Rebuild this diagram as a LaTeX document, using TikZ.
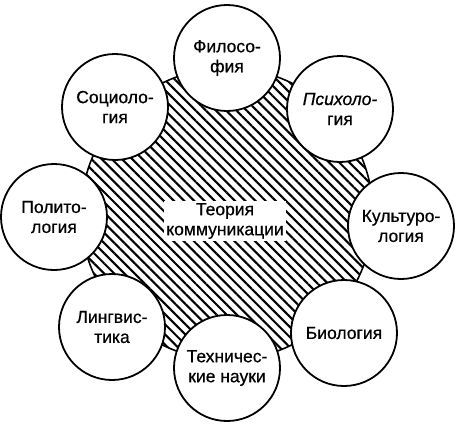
\documentclass[tikz,border=0pt]{standalone}
\usepackage{fontspec}
\setmainfont{Liberation Sans}[FakeBold=0.6]
\usetikzlibrary{patterns.meta}
\begin{document}
\begin{tikzpicture} [x = 1pt, y = -1pt,
	label font/.style = {font = \fontsize{17.5}{20}\selectfont},
	field/.style = {circle, draw, line width = 1.8pt, fill = white, minimum size = 106pt, inner sep = 0pt, align = center, label font},
	core/.style = {circle, draw, line width = 1.6pt, minimum size = 292pt, pattern = {Lines[angle = -45, distance = 7.2pt, line width = 2.1pt]}}]
	\useasboundingbox (0,0) rectangle (456,424);
	\node [core] (core) at (227,214) {};
	\node [fill = white, inner sep = 2pt, align = center, label font] (theory) at (225,221) {Теория\\коммуникации};
	\node [field] (phil) at (227,58) {Филосо-\\фия};
	\node [field] (psy) at (340,109) {{\itshape Психоло-}\\гия};
	\node [field] (soc) at (115,107) {Социоло-\\гия};
	\node [field] (pol) at (54,217) {Полито-\\логия};
	\node [field] (cult) at (401,226) {Культуро-\\логия};
	\node [field] (ling) at (112,327) {Лингвис-\\тика};
	\node [field] (tech) at (227,368) {Техничес-\\кие науки};
	\node [field] (bio) at (344,333) {Биология};
\end{tikzpicture}
\end{document}
